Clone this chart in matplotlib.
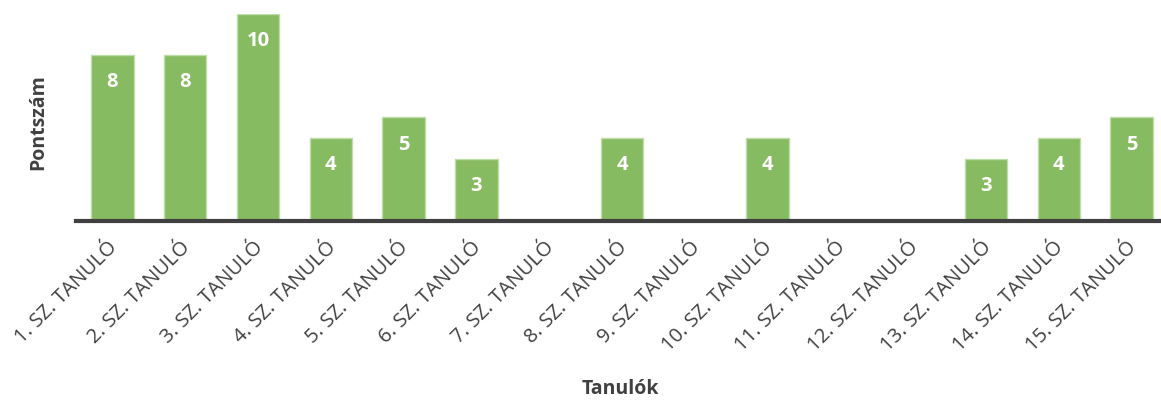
import matplotlib.pyplot as plt
from matplotlib.transforms import ScaledTranslation

plt.rcParams['font.family'] = ['Open Sans', 'DejaVu Sans']

students = [f'{i}. SZ. TANULÓ' for i in range(1, 16)]
scores = [8, 8, 10, 4, 5, 3, 0, 4, 0, 4, 0, 0, 3, 4, 5]

fig = plt.figure(figsize=(11.61, 4.0), dpi=100)
ax = fig.add_axes([76 / 1161, 179 / 400, 1092 / 1161, 207 / 400])

x = list(range(len(students)))
bars = ax.bar(x, scores, width=0.58, color='#87BB62', edgecolor='#BFDDA9', linewidth=1)

# value labels inside the bars, near the top
for xi, v in zip(x, scores):
    if v > 0:
        ax.annotate(str(v), (xi, v), xytext=(0, -27), textcoords='offset pixels',
                    ha='center', va='center', color='white', fontsize=14.5, fontweight='bold')

ax.set_xlim(-0.5, len(students) - 0.5)
ax.set_ylim(0, 10)
ax.set_xticks(x)
ax.set_xticklabels(students, rotation=45, ha='right', rotation_mode='anchor',
                   fontsize=14.5, color='#404040')
ax.tick_params(axis='x', length=0, pad=12)
ax.set_yticks([])

# nudge the rotated labels a little to the left
shift = ScaledTranslation(-5 / 100, 0, fig.dpi_scale_trans)
for lbl in ax.get_xticklabels():
    lbl.set_transform(lbl.get_transform() + shift)

for s in ['top', 'right', 'left']:
    ax.spines[s].set_visible(False)
ax.spines['bottom'].set_color('#404040')
ax.spines['bottom'].set_linewidth(3)

fig.text(38 / 1161, 1 - 122 / 400, 'Pontszám', rotation=90, ha='center', va='center',
         fontsize=14, fontweight='bold', color='#404040')
fig.text(620 / 1161, 1 - 389 / 400, 'Tanulók', ha='center', va='center',
         fontsize=14, fontweight='bold', color='#404040')

fig.savefig('out.png', dpi=100)
